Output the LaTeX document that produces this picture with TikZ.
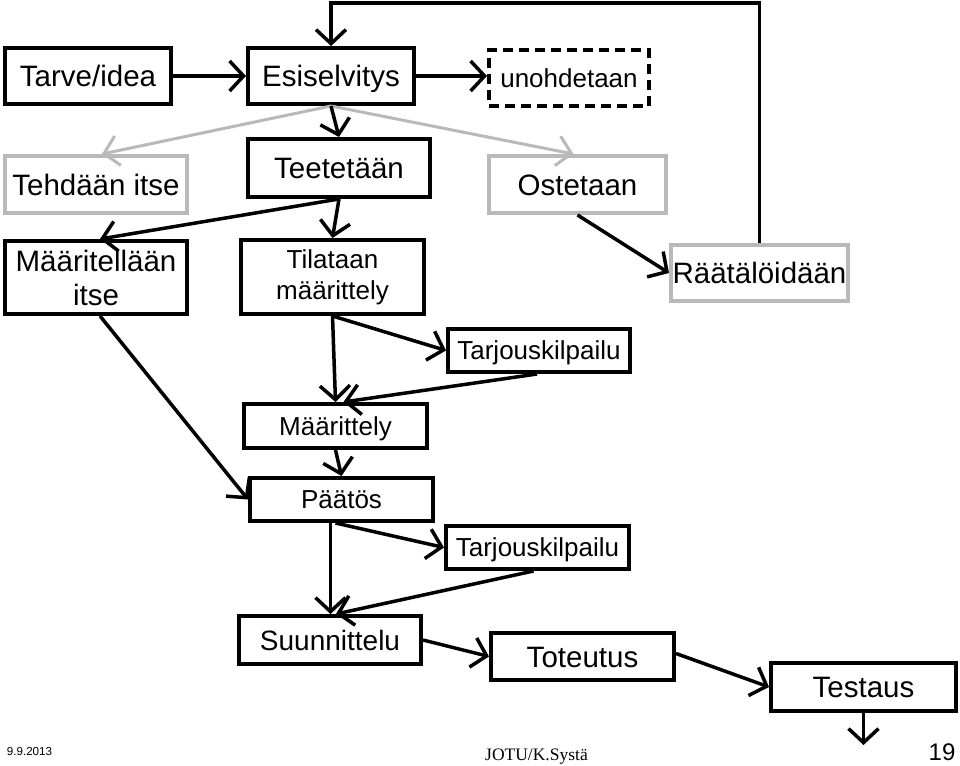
\documentclass[tikz,border=0pt]{standalone}
\usepackage{fontspec}
\setmainfont{Liberation Sans}
\newfontfamily\footserif{Liberation Serif}
\usepackage{xcolor}
\usetikzlibrary{arrows.meta}
\definecolor{palegray}{RGB}{185,185,185}
\begin{document}
\begin{tikzpicture}[x=1pt, y=-1pt,
  box/.style={draw, line width=4pt, inner sep=0pt, align=center, text height=21pt, text depth=0pt, font=\fontsize{29.5}{34}\selectfont},
  smallbox/.style={box, text height=18.6pt, font=\fontsize{26}{31}\selectfont},
  twoline/.style={text height=, text depth=},
  greybox/.style={box, draw=palegray},
  conn/.style={line width=3.5pt, -{Straight Barb[length=14pt,width=30pt]}},
  greyconn/.style={conn, draw=palegray, line width=3pt}]
\useasboundingbox (0,0) rectangle (960,765);
\node[box, minimum width=166pt, minimum height=56pt] (tarve) at (88,76) {Tarve/idea};
\node[box, minimum width=166pt, minimum height=56pt] (esisel) at (331,76) {Esiselvitys};
\node[smallbox, dashed, dash pattern=on 10pt off 6pt, minimum width=160pt, minimum height=56pt] (unohd) at (569,78) {unohdetaan};
\node[greybox, minimum width=182pt, minimum height=57pt] (tehdaan) at (96,184.5) {Tehdään itse};
\node[box, minimum width=182pt, minimum height=58pt] (teet) at (339,168) {Teetetään};
\node[greybox, minimum width=177pt, minimum height=57pt] (ostet) at (577.5,184.5) {Ostetaan};
\node[box, twoline, minimum width=182pt, minimum height=73pt] (maaritse) at (96,277.5) {Määritellään\\itse};
\node[smallbox, twoline, minimum width=183pt, minimum height=74pt] (tilataan) at (332.5,277) {Tilataan\\määrittely};
\node[greybox, minimum width=177pt, minimum height=56pt] (raat) at (759.5,273) {Räätälöidään};
\node[smallbox, minimum width=182pt, minimum height=43pt] (tarjA) at (539,350.5) {Tarjouskilpailu};
\node[smallbox, minimum width=183pt, minimum height=44pt] (maar) at (335.5,426) {Määrittely};
\node[smallbox, minimum width=183pt, minimum height=43pt] (paatos) at (341.5,499.5) {Päätös};
\node[smallbox, minimum width=183pt, minimum height=43pt] (tarjB) at (537.5,547.5) {Tarjouskilpailu};
\node[box, font=\fontsize{28}{33}\selectfont, minimum width=182pt, minimum height=48pt] (suun) at (330,640) {Suunnittelu};
\node[box, minimum width=183pt, minimum height=47pt] (toteu) at (582.5,656.5) {Toteutus};
\node[box, minimum width=185pt, minimum height=48pt] (testaus) at (863.5,687) {Testaus};
\coordinate (ylin) at (545,3);
\coordinate (loppu) at (863.5,745);
\draw[conn] (raat.north) |- (ylin) -| (esisel.north);
\draw[conn] (tarve) -- (esisel);
\draw[conn] (esisel.east) -- (esisel.east -| unohd.west);
\draw[greyconn] (esisel.south) -- ([xshift=6pt]tehdaan.north);
\draw[greyconn] (esisel.south) -- ([xshift=-4pt]ostet.north);
\draw[conn] (esisel.south) -- (teet.north);
\draw[conn] (teet.south) -- (tilataan.north);
\draw[conn] (teet.south) -- ([xshift=4pt]maaritse.north);
\draw[conn] (ostet.south) -- (raat.west);
\draw[conn] ([xshift=4pt]maaritse.south) -- (paatos.west);
\draw[conn] (tilataan.south) -- (tarjA.west);
\draw[conn] (tilataan.south) -- (maar.north);
\draw[conn] ([xshift=-2pt]tarjA.south) -- ([xshift=8pt]maar.north);
\draw[conn] (maar.south) -- (paatos.north);
\draw[conn] ([xshift=-6pt]paatos.south) -- (tarjB.west);
\draw[conn] ([xshift=-11pt]paatos.south) -- ([xshift=-11pt]paatos.south |- suun.north);
\draw[conn] ([xshift=-4pt]tarjB.south) -- ([xshift=6pt]suun.north);
\draw[conn] (suun.east) -- (toteu.west);
\draw[conn] ([yshift=3pt]toteu.east) -- (testaus.west);
\draw[conn] (testaus.south) -- (loppu);
\node[anchor=base, font=\fontsize{11.6}{13}\selectfont] (datum) at (29.5,755) {9.9.2013};
\node[anchor=base, font=\footserif\fontsize{17.5}{20}\selectfont] (tekija) at (536.5,760) {JOTU/K.Systä};
\node[anchor=base, font=\fontsize{24}{28}\selectfont] (sivu) at (942,760) {19};
\end{tikzpicture}
\end{document}
